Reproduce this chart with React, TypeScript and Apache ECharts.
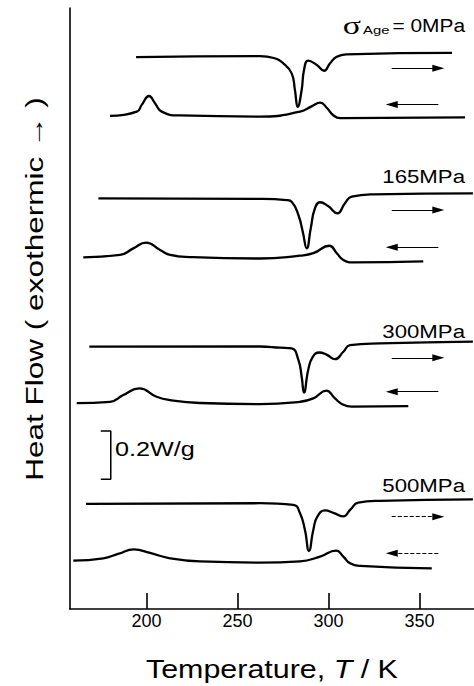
import React, { useEffect, useRef } from "react";
import * as echarts from "echarts";

// ---- data (Temperature K, Heat flow W/g with vertical offsets) ----
const xTicks = [200, 250, 300, 350];

const heat0: [number, number][] = [
  [194.3, 2.296], [262.4, 2.3], [270, 2.292], [275.2, 2.27], [279.8, 2.228], [281.6, 2.159],
  [283.1, 2.089], [285.3, 2.159], [286.6, 2.242], [288.9, 2.281], [293.6, 2.263], [297.6, 2.239],
  [300.9, 2.27], [304.6, 2.297], [310.0, 2.307], [367.9, 2.313],
];
const cool0: [number, number][] = [
  [180.0, 2.051], [194.7, 2.069], [197.4, 2.097], [201.4, 2.134], [204.7, 2.104], [208.4, 2.069],
  [218.4, 2.053], [262.4, 2.048], [284.4, 2.069], [291.0, 2.092], [295.4, 2.106], [299.2, 2.084],
  [302.5, 2.055], [306.4, 2.042], [375.1, 2.045],
];
const heat165: [number, number][] = [
  [173.6, 1.708], [262.4, 1.706], [277.1, 1.701], [279.8, 1.694], [283.5, 1.639], [285.9, 1.569],
  [288.1, 1.5], [290.3, 1.584], [292.6, 1.667], [295.4, 1.692], [299.8, 1.676], [304.9, 1.646],
  [309.1, 1.688], [312.8, 1.715], [324.7, 1.725], [379.4, 1.729],
];
const cool165: [number, number][] = [
  [165.3, 1.463], [185.5, 1.473], [192.8, 1.5], [199.8, 1.524], [207.5, 1.493], [213.0, 1.473],
  [223.9, 1.464], [262.4, 1.458], [284.4, 1.47], [291.7, 1.48], [300.5, 1.511], [304.6, 1.48],
  [308.2, 1.452], [313.7, 1.442], [352.1, 1.446],
];
const heat300: [number, number][] = [
  [168.6, 1.091], [262.4, 1.092], [273.4, 1.087], [279.8, 1.084], [283.5, 1.036], [285.3, 0.966],
  [286.6, 0.9], [288.9, 0.994], [291.4, 1.049], [295.0, 1.067], [299.2, 1.057], [303.6, 1.039],
  [308.2, 1.07], [311.9, 1.098], [328.3, 1.105], [379.4, 1.112],
];
const cool300: [number, number][] = [
  [161.7, 0.856], [180.0, 0.862], [187.3, 0.89], [196.1, 0.918], [205.6, 0.883], [213.0, 0.869],
  [229.4, 0.857], [262.4, 0.852], [284.4, 0.862], [291.7, 0.876], [298.8, 0.908], [303.6, 0.876],
  [307.3, 0.853], [312.8, 0.842], [343.9, 0.844],
];
const heat500: [number, number][] = [
  [166.8, 0.437], [262.4, 0.44], [280.7, 0.433], [284.4, 0.398], [287.1, 0.329], [289.3, 0.241],
  [291.7, 0.329], [293.9, 0.384], [298.1, 0.41], [303.1, 0.399], [308.2, 0.385], [311.9, 0.412],
  [316.4, 0.442], [328.3, 0.45], [379.4, 0.456],
];
const cool500: [number, number][] = [
  [159.8, 0.201], [176.3, 0.211], [184.4, 0.229], [193.2, 0.248], [202.0, 0.233], [213.0, 0.211],
  [229.4, 0.198], [262.4, 0.193], [284.4, 0.198], [295.4, 0.218], [304.2, 0.243], [308.2, 0.218],
  [311.9, 0.19], [317.4, 0.179], [356.8, 0.169],
];

const pressureLabels = ["0MPa", "165MPa", "300MPa", "500MPa"];
const arrowSpan = [334.8, 360.4];
const heatArrowLevels = [2.249, 1.66, 1.045, 0.384];
const coolArrowLevels = [2.099, 1.505, 0.904, 0.232];
const scaleBarValue = 0.2; // W/g
const scaleBarBase = 0.54;
const scaleBarX = [174.9, 180.4];

const FONT = "'Liberation Sans', Arial, Helvetica, sans-serif";

export default function App() {
  const ref = useRef<HTMLDivElement>(null);
  useEffect(() => {
    document.body.style.margin = "0";
    const chart = echarts.init(ref.current!, null, { renderer: "svg" });
    const heats = [heat0, heat165, heat300, heat500];
    const cools = [cool0, cool165, cool300, cool500];
    const curveStyle = { color: "#000", width: 2.3 };
    const arrowLine = (i: number) => ({ color: "#000", width: 1.2, type: i === 3 ? [4, 2] : "solid" });
    const series: any[] = [];
    heats.forEach((d, i) => {
      series.push({
        type: "line",
        name: "heating " + pressureLabels[i],
        data: d,
        showSymbol: false,
        smooth: 0.5,
        lineStyle: curveStyle,
        itemStyle: { color: "#000" },
        silent: true,
        markLine: {
          silent: true,
          symbol: ["none", "triangle"],
          symbolSize: [7, 12],
          label: { show: false },
          itemStyle: { color: "#000" },
          lineStyle: arrowLine(i),
          data: [[{ coord: [arrowSpan[0], heatArrowLevels[i]] }, { coord: [arrowSpan[1], heatArrowLevels[i]] }]],
        },
      });
    });
    cools.forEach((d, i) => {
      series.push({
        type: "line",
        name: "cooling " + pressureLabels[i],
        data: d,
        showSymbol: false,
        smooth: 0.5,
        lineStyle: curveStyle,
        itemStyle: { color: "#000" },
        silent: true,
        markLine: {
          silent: true,
          symbol: ["none", "triangle"],
          symbolSize: [7, 12],
          label: { show: false },
          itemStyle: { color: "#000" },
          lineStyle: arrowLine(i),
          data: [[{ coord: [arrowSpan[1], coolArrowLevels[i]] }, { coord: [arrowSpan[0], coolArrowLevels[i]] }]],
        },
      });
    });
    series.push({
      type: "line",
      name: "scale bar",
      data: [
        [scaleBarX[0], scaleBarBase + scaleBarValue],
        [scaleBarX[1], scaleBarBase + scaleBarValue],
        [scaleBarX[1], scaleBarBase],
        [scaleBarX[0], scaleBarBase],
      ],
      showSymbol: false,
      lineStyle: { color: "#000", width: 1.5 },
      silent: true,
    });

    const txt = (text: string, x: number, y: number, fontSize: number, align: string, scaleX = 1.15, extra: any = {}) => ({
      type: "text",
      x,
      y,
      scaleX,
      silent: true,
      style: {
        text,
        fill: "#000",
        fontSize,
        fontFamily: FONT,
        textAlign: align,
        align,
        textVerticalAlign: "middle",
        verticalAlign: "middle",
        ...extra,
      },
    });

    chart.setOption({
      animation: false,
      backgroundColor: "#fff",
      grid: { left: 70, right: 0, top: 8, bottom: 77, outerBoundsMode: "none", containLabel: false },
      xAxis: {
        type: "value",
        min: 158,
        max: 380,
        axisLine: { show: true, lineStyle: { color: "#000", width: 1.6 } },
        axisTick: { show: true, inside: true, length: 16, lineStyle: { color: "#000", width: 1.6 }, customValues: xTicks },
        axisLabel: { show: true, customValues: xTicks, fontSize: 18, color: "#000", margin: 3, fontFamily: FONT },
        splitLine: { show: false },
      },
      yAxis: {
        type: "value",
        min: 0,
        max: 2.5,
        axisLine: { show: true, lineStyle: { color: "#000", width: 1.6 } },
        axisTick: { show: false },
        axisLabel: { show: false },
        splitLine: { show: false },
      },
      series,
      graphic: [
        txt("σ", 361, 25, 26, "right", 1.3, { fontFamily: "'Liberation Serif', serif" }),
        txt("Age", 363, 30, 11, "left", 1.35),
        txt("= " + pressureLabels[0], 465, 25, 19, "right", 1.1),
        txt(pressureLabels[1], 465, 176, 19, "right", 1.17),
        txt(pressureLabels[2], 465, 331, 19, "right", 1.17),
        txt(pressureLabels[3], 465, 485, 19, "right", 1.17),
        txt(scaleBarValue + "W/g", 115, 448.5, 21, "left", 1.2),
        {
          type: "text",
          x: 146,
          y: 669,
          scaleX: 1.17,
          silent: true,
          style: {
            text: "{a|Temperature, }{i|T}{a| / K}",
            fill: "#000",
            fontSize: 26,
            fontFamily: FONT,
            textAlign: "left",
            align: "left",
            textVerticalAlign: "middle",
            verticalAlign: "middle",
            rich: {
              a: { fontSize: 26, fontFamily: FONT, fill: "#000" },
              i: { fontSize: 26, fontFamily: FONT, fontStyle: "italic", fill: "#000" },
            },
          },
        },
        {
          type: "text",
          x: 35,
          y: 289,
          rotation: Math.PI / 2,
          scaleX: 1.37,
          silent: true,
          style: {
            text: "Heat Flow ( exothermic → )",
            fill: "#000",
            fontSize: 23,
            fontFamily: FONT,
            textAlign: "center",
            align: "center",
            textVerticalAlign: "middle",
            verticalAlign: "middle",
          },
        },
      ],
    });
    return () => chart.dispose();
  }, []);
  return <div ref={ref} style={{ position: "fixed", left: 0, top: 0, width: 474, height: 686 }} />;
}
